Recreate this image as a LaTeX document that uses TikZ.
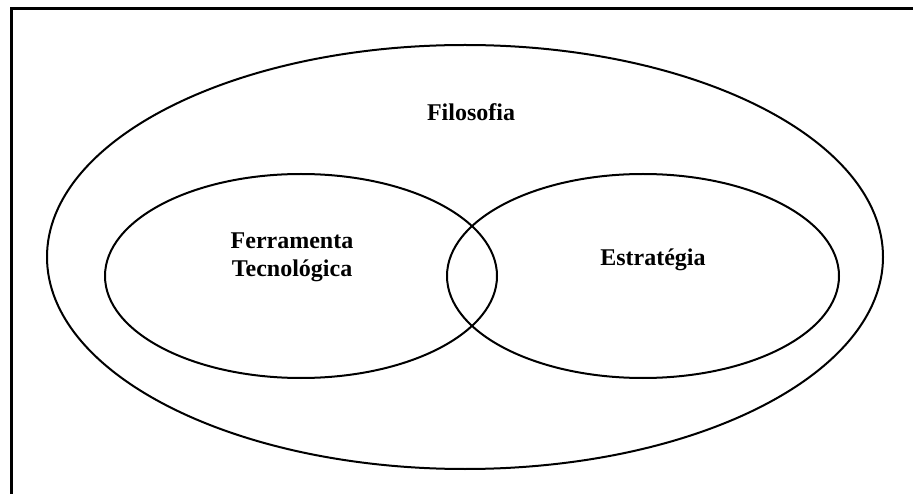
\documentclass[tikz,border=0pt]{standalone}
\usepackage{fontspec}
\setmainfont{Liberation Serif}
\tikzset{
  rotulo/.style={font=\fontsize{24}{28}\selectfont\bfseries, align=center, inner sep=0pt},
  conjunto/.style={line width=2pt}
}
\begin{document}
\begin{tikzpicture}[x=1pt,y=-1pt]
	\useasboundingbox (0,0) rectangle (913,494);
	\draw [line width=3pt] (11,494) -- (11,9) -- (913,9);
	\draw [conjunto] (465,257) ellipse [x radius=418pt, y radius=212pt];
	\draw [conjunto] (301,276) ellipse [x radius=196pt, y radius=102pt];
	\draw [conjunto] (643,276) ellipse [x radius=196pt, y radius=102pt];
	\node (filosofia) at (471,112) [rotulo] {Filosofia};
	\node (ferramenta) at (292,257) [rotulo] {Ferramenta\\Tecnológica};
	\node (estrategia) at (653,260) [rotulo] {Estratégia};
\end{tikzpicture}
\end{document}
